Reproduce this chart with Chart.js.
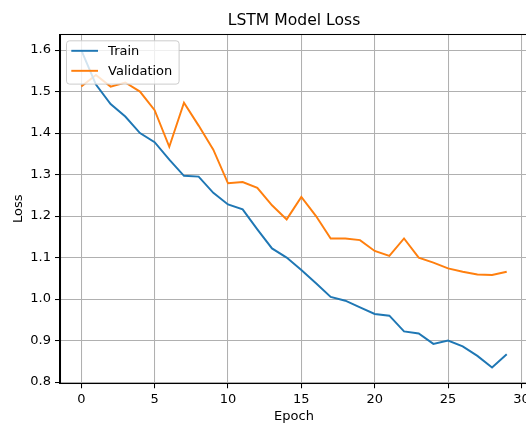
<!DOCTYPE html>
<html>
<head>
<meta charset="utf-8">
<script src="https://cdn.jsdelivr.net/npm/chart.js@4"></script>
<style>
  html, body { margin: 0; padding: 0; background: #fff; overflow: hidden; }
  #wrap { width: 526px; height: 423px; overflow: hidden; }
  canvas { display: block; }
</style>
</head>
<body>
<div id="wrap"><canvas id="loss-chart" width="532" height="430"></canvas></div>
<script>
'use strict';

/* data */
const epochs = [0, 1, 2, 3, 4, 5, 6, 7, 8, 9, 10, 11, 12, 13, 14, 15, 16, 17, 18, 19, 20, 21, 22, 23, 24, 25, 26, 27, 28, 29];
const trainLoss = [1.600, 1.517, 1.470, 1.440, 1.400, 1.378, 1.336, 1.297, 1.295, 1.256,
                   1.228, 1.216, 1.168, 1.122, 1.100, 1.070, 1.038, 1.005, 0.996, 0.980,
                   0.964, 0.960, 0.922, 0.917, 0.892, 0.900, 0.886, 0.863, 0.835, 0.867];
const valLoss = [1.512, 1.540, 1.512, 1.522, 1.500, 1.455, 1.367, 1.473, 1.418, 1.360,
                 1.279, 1.282, 1.268, 1.226, 1.192, 1.246, 1.200, 1.146, 1.146, 1.142,
                 1.116, 1.104, 1.146, 1.100, 1.088, 1.074, 1.066, 1.059, 1.058, 1.066];
const xTicks = [0, 5, 10, 15, 20, 25, 30];
const yTicks = [0.8, 0.9, 1.0, 1.1, 1.2, 1.3, 1.4, 1.5, 1.6];
const seriesNames = ['Train', 'Validation'];
const seriesColors = ['#1f77b4', '#ff7f0e'];

Chart.defaults.font.family = "'DejaVu Sans', sans-serif";
Chart.defaults.color = '#000';

const toPoints = values => epochs.map((e, i) => ({x: e, y: values[i]}));

// matplotlib style frame round the plot area
const frame = {
    id: 'frame',
    afterDatasetsDraw(chart) {
        const {ctx, chartArea: a} = chart;
        ctx.save();
        ctx.strokeStyle = '#000';
        ctx.lineWidth = 1.04;
        ctx.strokeRect(Math.round(a.left) + 0.5, Math.round(a.top) + 0.5,
                       Math.round(a.right - a.left), Math.round(a.bottom - a.top));
        ctx.restore();
    }
};

// legend inside the axes, upper left
const insideLegend = {
    id: 'insideLegend',
    afterDatasetsDraw(chart) {
        const {ctx, chartArea: a} = chart;
        const left = a.left + 6.5, top = a.top + 6.5;
        const w = 112.6, h = 43.3;
        ctx.save();
        ctx.beginPath();
        ctx.roundRect(left, top, w, h, 3);
        ctx.fillStyle = 'rgba(255,255,255,0.8)';
        ctx.fill();
        ctx.strokeStyle = '#cccccc';
        ctx.lineWidth = 1;
        ctx.stroke();

        ctx.font = "13px 'DejaVu Sans'";
        ctx.textBaseline = 'middle';
        ctx.textAlign = 'left';
        chart.data.datasets.forEach((ds, i) => {
            const y = top + 10 + i * 20;
            ctx.beginPath();
            ctx.moveTo(left + 4.8, y);
            ctx.lineTo(left + 31.5, y);
            ctx.strokeStyle = ds.borderColor;
            ctx.lineWidth = 1.95;
            ctx.stroke();
            ctx.fillStyle = '#000';
            ctx.fillText(ds.label, left + 41.6, y + 0.5);
        });
        ctx.restore();
    }
};

const lossCtx = document.querySelector('#loss-chart');

const lossConfig = {
    type: 'line',
    data: {
        datasets: [
            {
                label: seriesNames[0],
                data: toPoints(trainLoss),
                borderColor: seriesColors[0],
                backgroundColor: seriesColors[0],
                borderWidth: 1.95,
                pointRadius: 0,
                tension: 0
            },
            {
                label: seriesNames[1],
                data: toPoints(valLoss),
                borderColor: seriesColors[1],
                backgroundColor: seriesColors[1],
                borderWidth: 1.95,
                pointRadius: 0,
                tension: 0
            }
        ]
    },
    options: {
        responsive: false,
        animation: false,
        devicePixelRatio: 1,
        layout: {
            padding: {left: 0, right: 4, top: 0, bottom: 0}
        },
        scales: {
            x: {
                type: 'linear',
                min: -1.45,
                max: 30.45,
                afterBuildTicks: scale => { scale.ticks = xTicks.map(v => ({value: v})); },
                afterFit: scale => {
                    scale.height = 46.7;
                    scale.paddingLeft = 0;
                    scale.paddingRight = 0;
                },
                grid: {
                    color: '#b0b0b0',
                    lineWidth: 1.04,
                    tickColor: '#000',
                    tickLength: 5
                },
                border: {color: '#000', width: 1.04},
                ticks: {
                    autoSkip: false,
                    maxRotation: 0,
                    padding: 3.7,
                    font: {size: 13},
                    callback: value => `${value}`
                },
                title: {
                    display: true,
                    text: 'Epoch',
                    font: {size: 13},
                    padding: {top: 0, bottom: 5.5}
                }
            },
            y: {
                type: 'linear',
                min: 0.797,
                max: 1.638,
                afterBuildTicks: scale => { scale.ticks = yTicks.map(v => ({value: v})); },
                afterFit: scale => {
                    scale.width = 60;
                    scale.paddingTop = 0;
                    scale.paddingBottom = 0;
                },
                grid: {
                    color: '#b0b0b0',
                    lineWidth: 1.04,
                    tickColor: '#000',
                    tickLength: 5
                },
                border: {color: '#000', width: 1.04},
                ticks: {
                    autoSkip: false,
                    padding: 4,
                    font: {size: 13},
                    callback: value => value.toFixed(1)
                },
                title: {
                    display: true,
                    text: 'Loss',
                    font: {size: 13},
                    padding: {top: 11, bottom: 0}
                }
            }
        },
        plugins: {
            legend: {
                display: false
            },
            tooltip: {
                enabled: false
            },
            title: {
                display: true,
                text: 'LSTM Model Loss',
                fullSize: false,
                color: '#000',
                font: {size: 15.6, weight: 'normal'},
                padding: {top: 11.2, bottom: 4.4}
            }
        }
    },
    plugins: [frame, insideLegend]
};

const lossChart = new Chart(lossCtx, lossConfig);
</script>
</body>
</html>
